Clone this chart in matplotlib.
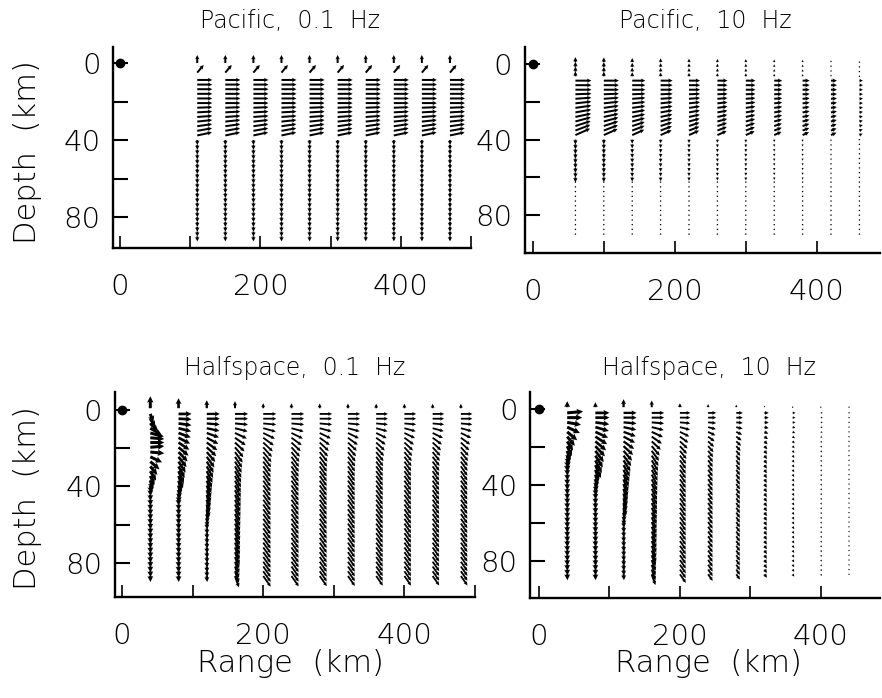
import numpy as np
import matplotlib.pyplot as plt

plt.rcParams['font.family'] = ['DejaVu Sans']
plt.rcParams['font.weight'] = 200

W, H = 882, 698

# ---------------- data ----------------
# Pacific model: arrow rows in the water, crust and mantle
pac_crust_depth = [8.8, 11.2, 13.6, 16.0, 18.4, 20.8, 23.2, 25.6, 28.0, 30.4, 32.8, 35.2, 37.6]
pac_mantle_depth = [40.0, 42.5, 45.0, 47.5, 50.0, 52.5, 55.0, 57.5, 60.0, 62.5, 65.0,
                    67.5, 70.0, 72.5, 75.0, 77.5, 80.0, 82.5, 85.0, 87.5, 90.0]

# Pacific, 0.1 Hz
pac_lo_range = [110, 150, 190, 230, 270, 310, 350, 390, 430, 470]
pac_lo_amp = [1.0, 1.0, 1.0, 1.0, 1.0, 1.0, 1.0, 1.0, 1.0, 1.0]
pac_lo_depth = [0.0, 5.0] + pac_crust_depth + pac_mantle_depth
pac_lo_angle = [90, 50] + [0, 0, 0, 0, 0, 0, 2, 3, 4, 6, 8, 10, 12] + [-89] * 21
pac_lo_length = [8, 10] + [15] * 13 + [5] * 21

# Pacific, 10 Hz
pac_hi_range = [60, 100, 140, 180, 220, 260, 300, 340, 380, 420, 460]
pac_hi_amp = [1.0, 0.94, 0.82, 0.75, 0.69, 0.63, 0.6, 0.5, 0.44, 0.37, 0.22]
pac_hi_depth = [6.5, 4.0, 1.5, -1.0] + pac_crust_depth + pac_mantle_depth
pac_hi_angle = [90, 90, 90, 90] + [0, 0, 0, 2, 4, 6, 8, 10, 12, 15, 18, 21, 24] + [-90] * 21
pac_hi_length = ([5, 5, 5, 5] + [16] * 13
                 + [5, 5, 5, 5, 5, 5, 5, 5, 5, 1.5, 1.5, 1.5, 1.5, 1.5, 1.5, 1.5, 1.5, 1.5, 1.5, 1.5, 1.5])

# Halfspace model: one row list, several column profiles (angle deg, length px)
hs_depth = [-1.0, 2.0, 4.5, 7.0, 9.5, 12.0, 14.5, 17.0, 19.5, 22.0, 24.5, 27.0,
            29.5, 32.0, 34.5, 37.0, 39.5, 42.0, 44.5, 47.0, 49.5, 52.0, 54.5, 57.0,
            59.5, 62.0, 64.5, 67.0, 69.5, 72.0, 74.5, 77.0, 79.5, 82.0, 84.5, 87.0]

hs_far_angle = [90, 0, 0, -5, -15, -26, -36, -43, -48, -51, -53, -54] + [-55] * 24
hs_far_length = [5] + [13] * 35

lo_c1_angle = [90, -70, -60, -45, -30, -15, -5, 0, 5, -5, -25, -40, -50, -58, -65, -72, -80] + [-88] * 19
lo_c1_length = [12, 9, 10, 11, 13, 14, 14, 14, 14, 14, 13, 12, 11, 11, 10, 9, 8] + [6] * 19

lo_c2_angle = [90, 0, -3, -8, -14, -20, -27, -34, -40, -46, -52, -57, -62, -66, -70,
               -74, -78, -82, -85] + [-88] * 17
lo_c2_length = [10] + [13] * 14 + [11, 10, 9, 8] + [6] * 17

c3_angle = [90, 0, 0, -5, -12, -20, -28, -36, -43, -49, -54, -58, -61, -64, -67, -70,
            -72, -74, -76, -78, -80, -82, -84, -85] + [-86] * 12
c3_length = [8] + [13] * 20 + [10, 9, 8] + [6] * 12

c4_angle = [90, 0, 0, -5, -14, -25, -35, -43, -50, -54, -57, -59, -61, -62, -63, -64,
            -64, -65, -65, -66, -66, -67, -67, -68, -68, -68, -69, -69, -69, -70, -70,
            -70, -70, -71, -71, -71]
c4_length = [7] + [13] * 30 + [12] * 5

hi_c1_angle = [90, 5, 0, -10, -25, -40, -50, -58, -65, -72, -78, -83, -86] + [-88] * 23
hi_c1_length = [6, 16, 15, 14, 14, 13, 12, 11, 11, 10, 9, 8, 7] + [6] * 23

hi_c2_angle = [90, 0, 0, -8, -16, -25, -33, -40, -47, -53, -58, -63, -67, -71, -75,
               -79, -82, -85, -87] + [-88] * 17
hi_c2_length = [5] + [14] * 12 + [11, 10, 9, 8, 7, 6] + [6] * 17

profiles = {
    'far': (hs_far_angle, hs_far_length),
    'lo1': (lo_c1_angle, lo_c1_length),
    'lo2': (lo_c2_angle, lo_c2_length),
    'c3': (c3_angle, c3_length),
    'c4': (c4_angle, c4_length),
    'hi1': (hi_c1_angle, hi_c1_length),
    'hi2': (hi_c2_angle, hi_c2_length),
}

# Halfspace, 0.1 Hz
hs_lo_range = [40, 80, 120, 160, 200, 240, 280, 320, 360, 400, 440, 480]
hs_lo_amp = [1.0, 1.0, 1.0, 1.0, 1.0, 0.97, 0.95, 0.93, 0.9, 0.9, 0.88, 0.88]
hs_lo_profile = ['lo1', 'lo2', 'c3', 'c4', 'far', 'far', 'far', 'far', 'far', 'far', 'far', 'far']

# Halfspace, 10 Hz
hs_hi_range = [40, 80, 120, 160, 200, 240, 280, 320, 360, 400, 440]
hs_hi_amp = [1.0, 1.0, 1.0, 0.95, 0.8, 0.62, 0.5, 0.33, 0.22, 0.15, 0.1]
hs_hi_profile = ['hi1', 'hi2', 'c3', 'c4', 'far', 'far', 'far', 'far', 'far', 'far', 'far']

titles = ['Pacific,  0.1  Hz', 'Pacific,  10  Hz', 'Halfspace,  0.1  Hz', 'Halfspace,  10  Hz']

# heavier pen for the near-source columns
pen = {'far': 1.8, 'c4': 2.0, 'c3': 2.3, 'lo2': 2.7, 'hi2': 2.7, 'lo1': 3.0, 'hi1': 3.0}


# ---------------- drawing ----------------
fig = plt.figure(figsize=(W / 100, H / 100), dpi=100)


def panel(left, top, right, bottom, xlim, ylim, xticks):
    ax = fig.add_axes([left / W, 1 - bottom / H, (right - left) / W, (bottom - top) / H])
    ax.set_xlim(*xlim)
    ax.set_ylim(*ylim)
    for s in ['top', 'right']:
        ax.spines[s].set_visible(False)
    for s in ['left', 'bottom']:
        ax.spines[s].set_linewidth(1.7)
    ax.set_yticks([0, 20, 40, 60, 80])
    ax.set_yticklabels(['0', '', '40', '', '80'])
    ax.set_xticks(xticks)
    ax.set_xticklabels(['0' if t == 0 else (str(t) if t % 200 == 0 else '') for t in xticks])
    ax.tick_params(axis='y', direction='in', length=11, width=1.5, labelsize=21, pad=9)
    ax.tick_params(axis='x', direction='in', length=9, width=1.2, labelsize=21, pad=18)
    ax.plot([0], [0], 'o', color='k', markersize=6, clip_on=False, zorder=5)
    return ax


def field(ax, ranges, amps, depths, angles, lengths, widths):
    for r, a, d, ang, ln, w in zip(ranges, amps, depths, angles, lengths, widths):
        t = np.radians(ang)
        L = np.asarray(ln, dtype=float) * a
        ax.quiver([r] * len(d), d, L * np.cos(t), L * np.sin(t), angles='uv',
                  scale_units='dots', scale=1, units='dots', width=w,
                  headwidth=2.2, headlength=2.2, headaxislength=1.9,
                  pivot='tail', color='k', minlength=0.8)


ax1 = panel(113, 47, 471, 248, (-10, 500), (96, -8.3), [0, 100, 200, 300, 400, 500])
n = len(pac_lo_range)
field(ax1, pac_lo_range, pac_lo_amp, [pac_lo_depth] * n, [pac_lo_angle] * n,
      [pac_lo_length] * n, [2.0] * n)

ax2 = panel(525, 47, 880, 253, (-11, 489), (100, -9), [0, 100, 200, 300, 400])
n = len(pac_hi_range)
field(ax2, pac_hi_range, pac_hi_amp, [pac_hi_depth] * n, [pac_hi_angle] * n,
      [pac_hi_length] * n, [2.0] * n)

ax3 = panel(115, 392, 475, 597, (-10, 500), (98, -9.5), [0, 100, 200, 300, 400, 500])
field(ax3, hs_lo_range, hs_lo_amp, [hs_depth] * len(hs_lo_range),
      [profiles[p][0] for p in hs_lo_profile], [profiles[p][1] for p in hs_lo_profile],
      [pen[p] for p in hs_lo_profile])

ax4 = panel(530, 392, 880, 598, (-12.8, 484), (99.5, -9), [0, 100, 200, 300, 400])
field(ax4, hs_hi_range, hs_hi_amp, [hs_depth] * len(hs_hi_range),
      [profiles[p][0] for p in hs_hi_profile], [profiles[p][1] for p in hs_hi_profile],
      [pen[p] for p in hs_hi_profile])

# titles and axis labels
for (x, y), t in zip([(290, 28), (705, 28), (295, 375), (709, 375)], titles):
    fig.text(x / W, 1 - y / H, t, fontsize=17, ha='center', va='baseline')
for y in [152, 498]:
    fig.text(28 / W, 1 - y / H, 'Depth  (km)', fontsize=22, rotation=90, ha='center', va='center')
for x in [290, 708]:
    fig.text(x / W, 1 - 663 / H, 'Range  (km)', fontsize=22, ha='center', va='center')

fig.savefig('out.png', dpi=100, facecolor='white')
